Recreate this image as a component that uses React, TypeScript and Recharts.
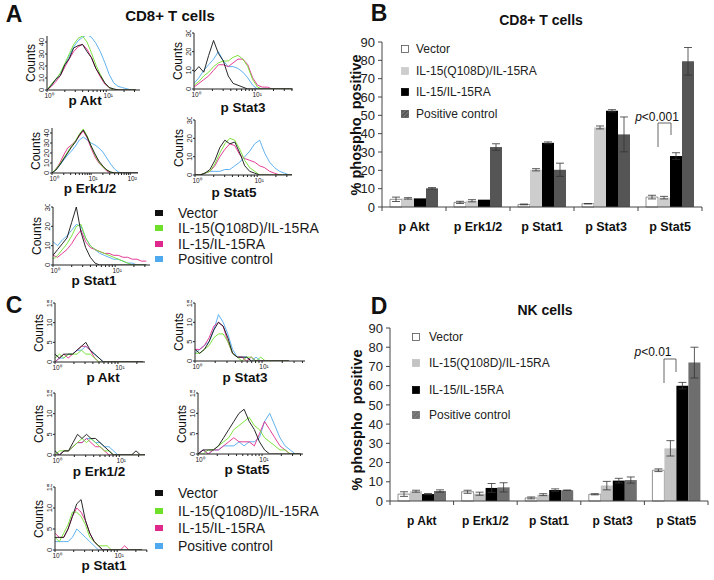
import { LineChart, Line, XAxis, YAxis, BarChart, Bar, ErrorBar } from 'recharts';

const FONT = 'Arial, "Liberation Sans", Helvetica, sans-serif';

const C_BLACK = '#111111';
const C_GREEN = '#6fe02a';
const C_PINK = '#e0278c';
const C_BLUE = '#4fa9ef';

const legendLabels = ['Vector', 'IL-15(Q108D)/IL-15RA', 'IL-15/IL-15RA', 'Positive control'];

// ---- flow histogram bins (log10 fluorescence, in decades) ----
const bins075 = [0, 0.075, 0.15, 0.225, 0.3, 0.375, 0.45, 0.525, 0.6, 0.675, 0.75, 0.825, 0.9, 0.975, 1.05, 1.125, 1.2, 1.275, 1.35, 1.425, 1.5];
const bins08 = [0, 0.08, 0.16, 0.24, 0.32, 0.4, 0.48, 0.56, 0.64, 0.72, 0.8, 0.88, 0.96, 1.04, 1.12, 1.2, 1.28, 1.36, 1.44, 1.52, 1.6];
const bins10 = [0, 0.1, 0.2, 0.3, 0.4, 0.5, 0.6, 0.7, 0.8, 0.9, 1.0, 1.1, 1.2, 1.3, 1.4, 1.5, 1.6, 1.7, 1.8, 1.9, 2.0, 2.1, 2.2];
const bins07 = [0, 0.07, 0.14, 0.21, 0.28, 0.35, 0.42, 0.49, 0.56, 0.63, 0.7, 0.77, 0.84, 0.91, 0.98, 1.05, 1.12, 1.19, 1.26, 1.33, 1.4];

// A: CD8+ T cells
const aAktBlack = [0, 4, 9, 12, 21, 26, 35, 37, 38, 32, 27, 18, 12, 6, 2, 1, 0, 0, 0, 0, 0];
const aAktGreen = [0, 5, 9, 14, 22, 30, 38, 43, 45, 40, 31, 21, 13, 6, 2, 0, 0, 0, 0, 0, 0];
const aAktPink = [0, 3, 7, 12, 19, 26, 32, 36, 38, 34, 27, 18, 11, 5, 2, 0, 0, 0, 0, 0, 0];
const aAktBlue = [0, 4, 9, 14, 21, 28, 36, 41, 44, 46, 44, 39, 32, 23, 13, 6, 3, 2, 1, 0, 0];

const aErkBlack = [0, 3, 8, 14, 20, 26, 31, 38, 43, 36, 27, 19, 12, 7, 3, 1, 0, 0, 0, 0, 0, 0, 0];
const aErkGreen = [0, 4, 9, 15, 21, 27, 32, 39, 44, 37, 27, 18, 11, 6, 3, 1, 0, 0, 0, 0, 0, 0, 0];
const aErkPink = [0, 4, 10, 18, 25, 28, 32, 37, 42, 35, 25, 16, 10, 6, 2, 0, 0, 0, 0, 0, 0, 0, 0];
const aErkBlue = [0, 3, 8, 13, 18, 22, 27, 33, 36, 33, 30, 28, 25, 21, 15, 9, 4, 1, 0, 0, 0, 0, 0];

const aStat1Black = [5, 8, 11, 14, 22, 30, 17, 9, 4, 1, 0, 0, 0, 0, 0, 0, 0, 0, 0, 0, 0];
const aStat1Green = [3, 5, 8, 11, 15, 20, 21, 14, 10, 8, 7, 6, 5, 4, 3, 2, 1, 0, 0, 0, 0];
const aStat1Pink = [5, 4, 6, 8, 11, 15, 18, 12, 9, 8, 7, 6, 6, 5, 5, 4, 4, 3, 3, 2, 2];
const aStat1Blue = [12, 10, 13, 15, 18, 21, 20, 14, 10, 8, 6, 5, 4, 3, 3, 2, 1, 1, 0, 0, 0];

const aStat3Black = [9, 12, 9, 18, 26, 19, 15, 7, 3, 2, 1, 0, 0, 0, 0, 0, 0, 0, 0, 0, 0];
const aStat3Green = [2, 4, 7, 9, 12, 14, 15, 15, 17, 18, 16, 12, 5, 1, 0, 0, 0, 0, 0, 0, 0];
const aStat3Pink = [1, 3, 5, 7, 10, 13, 13, 12, 14, 16, 16, 13, 6, 2, 1, 1, 0, 0, 0, 0, 0];
const aStat3Blue = [3, 6, 10, 13, 16, 20, 15, 12, 12, 11, 9, 6, 2, 0, 0, 0, 0, 0, 0, 0, 0];

const aStat5Black = [0, 0, 1, 3, 8, 15, 19, 17, 18, 12, 5, 2, 1, 0, 0, 0, 0, 0, 0, 0, 0];
const aStat5Green = [0, 0, 1, 2, 6, 12, 17, 20, 19, 14, 8, 4, 2, 0, 0, 0, 0, 0, 0, 0, 0];
const aStat5Pink = [0, 0, 1, 2, 5, 10, 14, 17, 16, 11, 9, 8, 7, 5, 4, 2, 1, 0, 0, 0, 0];
const aStat5Blue = [0, 0, 1, 2, 2, 2, 3, 3, 5, 7, 10, 13, 17, 19, 12, 7, 4, 2, 1, 0, 0];

// C: NK cells
const cAktBlack = [2, 1, 2, 2, 2, 3, 4, 5, 3, 2, 1, 0, 0, 0, 0, 0, 0, 0, 0, 0, 0];
const cAktGreen = [1, 2, 1, 2, 2, 2, 3, 2, 2, 1, 0, 0, 0, 0, 0, 0, 0, 0, 0, 0, 0];
const cAktPink = [0, 1, 2, 1, 2, 3, 4, 4, 3, 1, 0, 0, 0, 0, 0, 0, 0, 0, 0, 0, 0];
const cAktBlue = [0, 1, 1, 2, 2, 3, 3, 4, 3, 2, 1, 0, 0, 0, 0, 0, 0, 0, 0, 0, 0];

const cErkBlack = [1, 0, 1, 1, 3, 5, 4, 5, 4, 4, 3, 2, 1, 0, 0, 0, 0, 0, 1, 0, 0];
const cErkGreen = [0, 1, 1, 1, 2, 3, 4, 3, 4, 3, 2, 1, 1, 0, 0, 0, 0, 0, 0, 0, 0];
const cErkPink = [0, 0, 1, 1, 2, 3, 3, 4, 3, 2, 2, 1, 0, 0, 0, 0, 0, 0, 0, 0, 0];
const cErkBlue = [0, 0, 1, 1, 2, 3, 3, 4, 4, 3, 3, 2, 2, 1, 0, 0, 0, 0, 0, 0, 0];

const cStat1Black = [3, 3, 3, 5, 8, 11, 12, 7, 4, 2, 1, 0, 0, 0, 0, 0, 0, 0, 0, 0, 0];
const cStat1Green = [3, 2, 4, 6, 9, 9, 8, 6, 3, 2, 1, 1, 1, 0, 0, 0, 0, 0, 0, 0, 0];
const cStat1Pink = [4, 3, 3, 5, 8, 10, 9, 7, 4, 2, 1, 0, 0, 0, 0, 0, 1, 0, 0, 0, 0];
const cStat1Blue = [2, 2, 2, 2, 3, 5, 4, 3, 2, 1, 0, 0, 0, 0, 0, 0, 0, 0, 0, 0, 0];

const cStat3Black = [3, 2, 3, 5, 8, 10, 9, 6, 2, 1, 1, 1, 0, 0, 0, 0, 0, 0, 0, 0, 0];
const cStat3Green = [2, 2, 3, 4, 6, 7, 7, 5, 2, 1, 0, 1, 1, 0, 1, 0, 0, 0, 0, 0, 0];
const cStat3Pink = [3, 3, 4, 6, 9, 10, 9, 5, 2, 1, 1, 0, 1, 0, 0, 0, 0, 0, 0, 0, 0];
const cStat3Blue = [2, 3, 4, 5, 8, 12, 10, 7, 3, 1, 1, 1, 0, 1, 0, 0, 0, 0, 0, 0, 0];

const cStat5Black = [0, 1, 1, 1, 2, 4, 6, 8, 10, 11, 8, 6, 3, 1, 0, 0, 0, 0, 0, 0, 0];
const cStat5Green = [0, 0, 1, 1, 2, 3, 4, 6, 7, 8, 9, 7, 6, 4, 3, 2, 1, 1, 0, 0, 0];
const cStat5Pink = [0, 1, 0, 1, 1, 2, 3, 4, 3, 3, 3, 2, 5, 8, 6, 4, 2, 1, 0, 0, 0];
const cStat5Blue = [0, 1, 0, 1, 1, 2, 2, 2, 3, 2, 3, 3, 4, 8, 10, 7, 4, 2, 1, 0, 0];

// ---- bar panels: % phospho positive ----
const barCategories = ['p Akt', 'p Erk1/2', 'p Stat1', 'p Stat3', 'p Stat5'];
const pctTicks = [0, 10, 20, 30, 40, 50, 60, 70, 80, 90];

const cd8Vector = [4.2, 2.5, 1.4, 1.8, 5.4];
const cd8VectorErr = [1.2, 0.6, 0.2, 0.1, 1];
const cd8Q108d = [4.7, 3.4, 20.3, 43.4, 5.1];
const cd8Q108dErr = [0.4, 0.6, 0.6, 0.8, 0.7];
const cd8Il15 = [4.7, 4, 35, 52.5, 27.8];
const cd8Il15Err = [0, 0, 0.5, 0.6, 1.8];
const cd8Positive = [10.2, 32.7, 20.3, 39.6, 79.5];
const cd8PositiveErr = [0.4, 1.8, 3.6, 9.5, 7.5];

const nkVector = [3.6, 4.8, 1.6, 3.5, 16];
const nkVectorErr = [1.2, 0.8, 0.5, 0.3, 0.7];
const nkQ108d = [5.1, 3.8, 3.3, 8, 27.4];
const nkQ108dErr = [0.5, 0.8, 0.5, 2.2, 4];
const nkIl15 = [3.6, 6.8, 5.7, 10.6, 60];
const nkIl15Err = [0.3, 2.3, 0.6, 1.2, 1.7];
const nkPositive = [5.2, 7.1, 5.6, 10.9, 72];
const nkPositiveErr = [0.6, 2.4, 0.1, 1.6, 8];

type HistSpec = {
  left: number; right: number; top: number; zero: number;
  yMax: number; yTicks: number[]; xMax: number;
  bins: number[]; black: number[]; green: number[]; pink: number[]; blue: number[];
  title: string; titleX: number; titleY: number;
};

const SUP = ['\u2070', '\u00b9', '\u00b2', '\u00b3'];

function decadeTicks(xMax: number) {
  const out: number[] = [];
  for (let d = 0; d <= Math.floor(xMax); d++) {
    for (let k = 1; k <= 9; k++) {
      const v = d + Math.log10(k);
      if (v <= xMax + 1e-9) out.push(v);
    }
  }
  return out;
}

function DecadeTick(props: any) {
  const { x, y, payload } = props;
  const v = payload.value;
  const r = Math.round(v);
  if (Math.abs(v - r) > 1e-6) return <g />;
  return (
    <text x={x + 2} y={y + 5.5} textAnchor="middle" fontSize={6.5} fill="#222" fontFamily={FONT}>
      {'10' + SUP[r]}
    </text>
  );
}

function CountTick(props: any) {
  const { x, y, payload } = props;
  const tx = x - 1;
  return (
    <text x={tx} y={y} transform={`rotate(-90 ${tx} ${y})`} textAnchor="middle" fontSize={7.5} fill="#222" fontFamily={FONT}>
      {payload.value}
    </text>
  );
}

function Txt({ x, y, size, bold, rotate, children, anchor = 'middle', color = '#111' }: any) {
  const tx = anchor === 'start' ? 'translate(0, -50%)' : 'translate(-50%, -50%)';
  return (
    <div
      style={{
        position: 'absolute', left: x, top: y,
        transform: tx + (rotate ? ' rotate(-90deg)' : ''),
        fontSize: size, fontWeight: bold ? 700 : 400, lineHeight: 1,
        whiteSpace: 'nowrap', color,
      }}
    >
      {children}
    </div>
  );
}

function Histogram({ s }: { s: HistSpec }) {
  const padL = 24, padT = 3, padR = 3, axisH = 14;
  const plotW = s.right - s.left;
  const plotH = s.zero - s.top;
  const rows = s.bins.map((x, i) => ({ x, black: s.black[i], green: s.green[i], pink: s.pink[i], blue: s.blue[i] }));
  return (
    <>
      <div style={{ position: 'absolute', left: s.left - padL, top: s.top - padT }}>
        <LineChart width={plotW + padL + padR} height={plotH + padT + axisH} data={rows}
          margin={{ top: padT, right: padR, bottom: 0, left: 0 }}>
          <XAxis dataKey="x" type="number" domain={[0, s.xMax]} ticks={decadeTicks(s.xMax)} interval={0}
            height={axisH} tickSize={2} tickMargin={0} stroke="#222" allowDataOverflow
            tick={(p: any) => <DecadeTick {...p} />} />
          <YAxis type="number" domain={[0, s.yMax]} ticks={s.yTicks} interval={0} width={padL}
            tickSize={2} tickMargin={0} stroke="#222" allowDataOverflow
            tick={(p: any) => <CountTick {...p} />} />
          <Line type="linear" dataKey="blue" stroke={C_BLUE} strokeWidth={0.9} dot={false} isAnimationActive={false} />
          <Line type="linear" dataKey="pink" stroke={C_PINK} strokeWidth={0.9} dot={false} isAnimationActive={false} />
          <Line type="linear" dataKey="green" stroke={C_GREEN} strokeWidth={0.9} dot={false} isAnimationActive={false} />
          <Line type="linear" dataKey="black" stroke={C_BLACK} strokeWidth={0.9} dot={false} isAnimationActive={false} />
        </LineChart>
      </div>
      <Txt x={s.titleX} y={s.titleY} size={13.5} bold>{s.title}</Txt>
      <Txt x={s.left - 16} y={(s.top + s.zero) / 2} size={12} rotate>Counts</Txt>
    </>
  );
}

const histA: HistSpec[] = [
  { left: 47, right: 140, top: 36, zero: 90, yMax: 45, yTicks: [0, 10, 20, 30, 40], xMax: 1.57, bins: bins075,
    black: aAktBlack, green: aAktGreen, pink: aAktPink, blue: aAktBlue, title: 'p Akt', titleX: 85, titleY: 101 },
  { left: 52, right: 138, top: 128, zero: 173, yMax: 45, yTicks: [0, 10, 20, 30, 40], xMax: 2.2, bins: bins10,
    black: aErkBlack, green: aErkGreen, pink: aErkPink, blue: aErkBlue, title: 'p Erk1/2', titleX: 90, titleY: 189 },
  { left: 53, right: 150, top: 207, zero: 265, yMax: 30, yTicks: [0, 10, 20, 30], xMax: 1.56, bins: bins075,
    black: aStat1Black, green: aStat1Green, pink: aStat1Pink, blue: aStat1Blue, title: 'p Stat1', titleX: 94, titleY: 281 },
  { left: 194, right: 293, top: 33, zero: 89, yMax: 30, yTicks: [0, 10, 20, 30], xMax: 1.62, bins: bins08,
    black: aStat3Black, green: aStat3Green, pink: aStat3Pink, blue: aStat3Blue, title: 'p Stat3', titleX: 243, titleY: 108 },
  { left: 195, right: 292, top: 120, zero: 175, yMax: 30, yTicks: [0, 10, 20, 30], xMax: 1.56, bins: bins08,
    black: aStat5Black, green: aStat5Green, pink: aStat5Pink, blue: aStat5Blue, title: 'p Stat5', titleX: 234, titleY: 193 },
];

const histC: HistSpec[] = [
  { left: 55, right: 145, top: 303, zero: 362, yMax: 15, yTicks: [0, 5, 10, 15], xMax: 1.43, bins: bins07,
    black: cAktBlack, green: cAktGreen, pink: cAktPink, blue: cAktBlue, title: 'p Akt', titleX: 103, titleY: 378 },
  { left: 55, right: 145, top: 393, zero: 455, yMax: 15, yTicks: [0, 5, 10, 15], xMax: 1.4, bins: bins07,
    black: cErkBlack, green: cErkGreen, pink: cErkPink, blue: cErkBlue, title: 'p Erk1/2', titleX: 99, titleY: 472 },
  { left: 55, right: 147, top: 487, zero: 550, yMax: 15, yTicks: [0, 5, 10, 15], xMax: 1.48, bins: bins07,
    black: cStat1Black, green: cStat1Green, pink: cStat1Pink, blue: cStat1Blue, title: 'p Stat1', titleX: 104, titleY: 566 },
  { left: 195, right: 305, top: 303, zero: 361, yMax: 15, yTicks: [0, 5, 10, 15], xMax: 1.64, bins: bins07,
    black: cStat3Black, green: cStat3Green, pink: cStat3Pink, blue: cStat3Blue, title: 'p Stat3', titleX: 245, titleY: 378 },
  { left: 198, right: 303, top: 393, zero: 454, yMax: 15, yTicks: [0, 5, 10, 15], xMax: 1.64, bins: bins08,
    black: cStat5Black, green: cStat5Green, pink: cStat5Pink, blue: cStat5Blue, title: 'p Stat5', titleX: 247, titleY: 470 },
];

function ColorLegend({ top, gap }: { top: number; gap: number }) {
  const colors = [C_BLACK, C_GREEN, C_PINK, C_BLUE];
  return (
    <>
      {legendLabels.map((lab, i) => (
        <div key={lab}>
          <div style={{ position: 'absolute', left: 155, top: top + i * gap - 3, width: 8, height: 6, background: colors[i] }} />
          <Txt x={178} y={top + i * gap} size={14} anchor="start" color="#1a1a1a">{lab}</Txt>
        </div>
      ))}
    </>
  );
}

type BarSpec = {
  left: number; top: number; width: number; height: number;
  mLeft: number; mRight: number; mTop: number; mBottom: number; yWidth: number;
  vec: number[]; vecErr: number[]; q: number[]; qErr: number[];
  il: number[]; ilErr: number[]; pos: number[]; posErr: number[];
  qColor: string; posColor: string; catSize: number;
};

function PhosphoBars({ s }: { s: BarSpec }) {
  const rows = barCategories.map((cat, i) => ({
    cat, vec: s.vec[i], vecErr: s.vecErr[i], q: s.q[i], qErr: s.qErr[i],
    il: s.il[i], ilErr: s.ilErr[i], pos: s.pos[i], posErr: s.posErr[i],
  }));
  const plotW = s.width - s.mLeft - s.yWidth - s.mRight;
  const half = plotW / barCategories.length / 2;
  const last = barCategories[barCategories.length - 1];
  const catTick = (p: any) => (
    <g>
      <line x1={p.x - half} y1={p.y} x2={p.x - half} y2={p.y + 4} stroke="#444" />
      {p.payload.value === last && <line x1={p.x + half} y1={p.y} x2={p.x + half} y2={p.y + 4} stroke="#444" />}
      <text x={p.x} y={p.y + 24} textAnchor="middle" fontSize={s.catSize} fontWeight="bold" fill="#111" fontFamily={FONT}>
        {p.payload.value}
      </text>
    </g>
  );
  const err = { width: 4, stroke: '#333', strokeWidth: 0.8 };
  return (
    <div style={{ position: 'absolute', left: s.left, top: s.top }}>
      <BarChart width={s.width} height={s.height} data={rows} barCategoryGap={8} barGap={0}
        margin={{ top: s.mTop, right: s.mRight, left: s.mLeft, bottom: s.mBottom }}>
        <XAxis dataKey="cat" height={30} tickSize={0} tickMargin={0} tickLine={false} stroke="#444" interval={0} tick={catTick} />
        <YAxis type="number" domain={[0, 90]} ticks={pctTicks} interval={0} width={s.yWidth} tickSize={4} tickMargin={3}
          stroke="#444" tick={{ fontSize: 13, fill: '#222', fontFamily: FONT }} />
        <Bar dataKey="vec" fill="#ffffff" stroke="#777" strokeWidth={0.8} isAnimationActive={false}>
          <ErrorBar dataKey="vecErr" {...err} />
        </Bar>
        <Bar dataKey="q" fill={s.qColor} isAnimationActive={false}>
          <ErrorBar dataKey="qErr" {...err} />
        </Bar>
        <Bar dataKey="il" fill="#000000" isAnimationActive={false}>
          <ErrorBar dataKey="ilErr" {...err} />
        </Bar>
        <Bar dataKey="pos" fill={s.posColor} isAnimationActive={false}>
          <ErrorBar dataKey="posErr" {...err} />
        </Bar>
      </BarChart>
    </div>
  );
}

function BarLegend({ x, textX, rows, fills, id }: { x: number; textX: number; rows: number[]; fills: string[]; id: string }) {
  return (
    <>
      {legendLabels.map((lab, i) => (
        <div key={lab}>
          <svg style={{ position: 'absolute', left: x, top: rows[i] - 4 }} width={8} height={8}>
            <defs>
              <pattern id={id} width="3" height="3" patternUnits="userSpaceOnUse" patternTransform="rotate(45)">
                <rect width="3" height="3" fill={fills[3]} />
                <line x1="0" y1="0" x2="0" y2="3" stroke="#aaa" strokeWidth="0.8" />
              </pattern>
            </defs>
            <rect x={0.5} y={0.5} width={7} height={7} fill={i === 3 ? `url(#${id})` : fills[i]} stroke={i === 0 ? '#555' : fills[i]} strokeWidth={0.8} />
          </svg>
          <Txt x={textX} y={rows[i]} size={12} anchor="start" color="#222">{lab}</Txt>
        </div>
      ))}
    </>
  );
}

const cd8Spec: BarSpec = {
  left: 340, top: 30, width: 374, height: 212, mLeft: 14, mRight: 12, mTop: 12, mBottom: 5, yWidth: 28,
  vec: cd8Vector, vecErr: cd8VectorErr, q: cd8Q108d, qErr: cd8Q108dErr,
  il: cd8Il15, ilErr: cd8Il15Err, pos: cd8Positive, posErr: cd8PositiveErr,
  qColor: '#cdcdcd', posColor: '#555555', catSize: 12.5,
};

const nkSpec: BarSpec = {
  left: 350, top: 318, width: 364, height: 213, mLeft: 12, mRight: 6, mTop: 10, mBottom: 0, yWidth: 28,
  vec: nkVector, vecErr: nkVectorErr, q: nkQ108d, qErr: nkQ108dErr,
  il: nkIl15, ilErr: nkIl15Err, pos: nkPositive, posErr: nkPositiveErr,
  qColor: '#c3c3c3', posColor: '#6e6e6e', catSize: 12,
};

export default function App() {
  return (
    <div style={{ position: 'absolute', left: 0, top: 0, width: 714, height: 580, background: '#fff', fontFamily: FONT, overflow: 'hidden' }}>
      {/* panel A */}
      <Txt x={14} y={14} size={23} bold>A</Txt>
      <Txt x={170} y={15} size={15} bold>CD8+ T cells</Txt>
      {histA.map((s) => <Histogram key={'a' + s.title} s={s} />)}
      <ColorLegend top={213} gap={15.3} />

      {/* panel C */}
      <Txt x={14} y={305} size={23} bold>C</Txt>
      {histC.map((s) => <Histogram key={'c' + s.title} s={s} />)}
      <ColorLegend top={493} gap={17.5} />

      {/* panel B */}
      <Txt x={379} y={13} size={23} bold>B</Txt>
      <Txt x={541} y={20} size={14} bold>CD8+ T cells</Txt>
      <Txt x={356} y={125} size={14.5} bold rotate>%&nbsp;phospho&nbsp;&nbsp;positive</Txt>
      <PhosphoBars s={cd8Spec} />
      <BarLegend x={401} textX={416} rows={[49, 71, 92, 114]} fills={['#ffffff', '#cdcdcd', '#000000', '#555555']} id="hatchB" />
      <Txt x={657} y={117} size={12}><i>p</i>&lt;0.001</Txt>

      {/* panel D */}
      <Txt x={379} y={306} size={23} bold>D</Txt>
      <Txt x={545} y={310} size={14} bold>NK cells</Txt>
      <Txt x={357} y={420} size={14.5} bold rotate>%&nbsp;phospho&nbsp;&nbsp;positive</Txt>
      <PhosphoBars s={nkSpec} />
      <BarLegend x={412} textX={429} rows={[337, 363, 390, 415]} fills={['#ffffff', '#c3c3c3', '#000000', '#6e6e6e']} id="hatchD" />
      <Txt x={653} y={352} size={12}><i>p</i>&lt;0.01</Txt>

      {/* significance brackets */}
      <svg style={{ position: 'absolute', left: 0, top: 0, pointerEvents: 'none' }} width={714} height={580}>
        <path d="M658 147 V123 H671 V135" fill="none" stroke="#666" strokeWidth={1} />
        <path d="M664 383 V359 H676 V372" fill="none" stroke="#666" strokeWidth={1} />
      </svg>
    </div>
  );
}
